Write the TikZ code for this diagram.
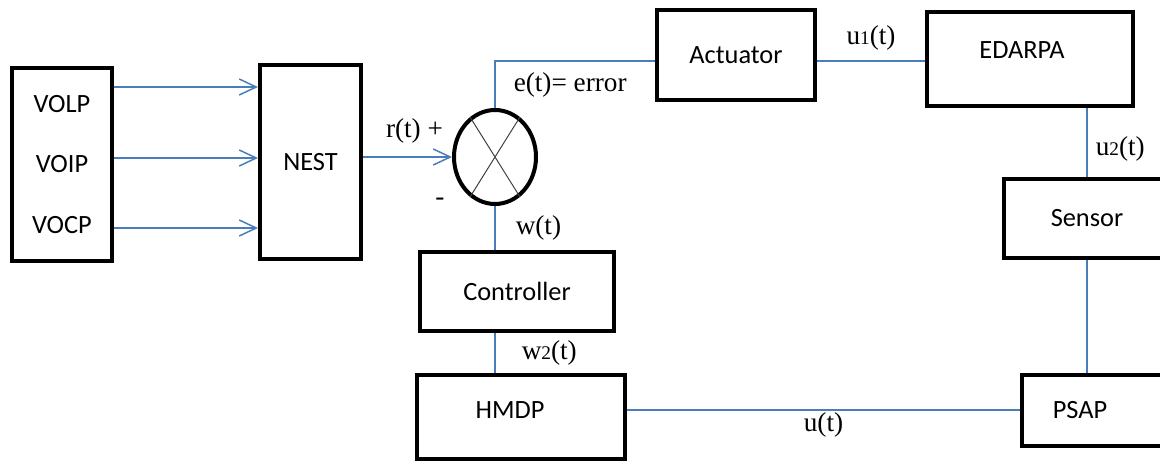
\documentclass[tikz,border=0pt]{standalone}
\usepackage{fontspec}
\setmainfont{Carlito}
\newfontfamily\timesfont{Liberation Serif}
\usetikzlibrary{arrows.meta,positioning,shapes.geometric}
\definecolor{wire}{HTML}{4A7EBB}
\newcommand{\smalldig}[1]{{\fontsize{11}{11}\selectfont #1}}

\begin{document}
\begin{tikzpicture}[x=0.2mm,y=-0.2mm,>={Straight Barb[length=3.4mm,width=3.2mm]},
  blk/.style={draw,line width=0.8mm,font=\fontsize{15}{18}\selectfont},
  ln/.style={draw=wire,line width=0.3mm},
  lbl/.style={inner sep=0pt,font=\timesfont\fontsize{15.5}{18}\selectfont}]
\useasboundingbox (0,0) rectangle (1160,464);
\clip (0,0) rectangle (1160,464);
% blocks
\node[blk,minimum width=20mm,minimum height=38.6mm,align=center,font=\fontsize{15}{34.6}\selectfont] (inp) at (62,164.5) {VOLP\\VOIP\\VOCP};
\node[blk,minimum width=20.2mm,minimum height=38.8mm] (nest) at (310.5,162) {NEST};
\node[ellipse,draw,line width=0.8mm,minimum width=16.4mm,minimum height=18.8mm,inner sep=0pt] (sum) at (495,157) {};
\draw[darkgray,line width=0.2mm] (sum.58) -- (sum.238) (sum.122) -- (sum.302);
\node[blk,minimum width=31.6mm,minimum height=18mm] (act) at (736,55) {Actuator};
\node[blk,minimum width=41.2mm,minimum height=18.8mm] (edarpa) at (1030,59) {\raisebox{3.6mm}{EDARPA}\hspace*{3.2mm}};
\node[blk,minimum width=33.2mm,minimum height=15.8mm] (sensor) at (1087,218.5) {Sensor};
\node[blk,minimum width=30.2mm,minimum height=14.2mm] (psap) at (1097.5,410) {PSAP\hspace*{7mm}};
\node[blk,minimum width=38.8mm,minimum height=15.8mm] (ctrl) at (517,291.5) {Controller};
\node[blk,minimum width=41.6mm,minimum height=16.8mm] (hmdp) at (521,417) {\raisebox{2.8mm}{HMDP}\hspace*{4.4mm}};
\node[lbl] (minus) at (440,202) {-};
% connectors
\foreach \yy in {87,158,228}
  \draw[ln,->] (inp.east |- 0,\yy) -- (nest.west |- 0,\yy);
\draw[ln,->] (nest.east |- sum.west) -- node[lbl,above=2.6mm,xshift=1.4mm]{r(t) +} (sum.west);
\coordinate (u1a) at ([yshift=-1.2mm]act.east);
\draw[ln] (sum.north) |- node[lbl,pos=0.25,right=3.6mm]{e(t)= error} ([yshift=-1.2mm]act.west);
\draw[ln] (u1a) -- node[lbl,above=2mm]{u\smalldig{1}(t)} (u1a -| edarpa.west);
\draw[ln] (sensor.north |- edarpa.south) -- node[lbl,pos=0.6,right=1.6mm]{u\smalldig{2}(t)} (sensor.north);
\draw[ln] (sensor.south) -- (sensor.south |- psap.north);
\draw[ln] (psap.west) -- node[lbl,below=0.4mm]{u(t)} (psap.west -| hmdp.east);
\draw[ln] (sum.south) -- node[lbl,right=4mm]{w(t)} (sum.south |- ctrl.north);
\draw[ln] (sum.south |- ctrl.south) -- node[lbl,right=5.2mm]{w\smalldig{2}(t)} (sum.south |- hmdp.north);
\end{tikzpicture}
\end{document}
